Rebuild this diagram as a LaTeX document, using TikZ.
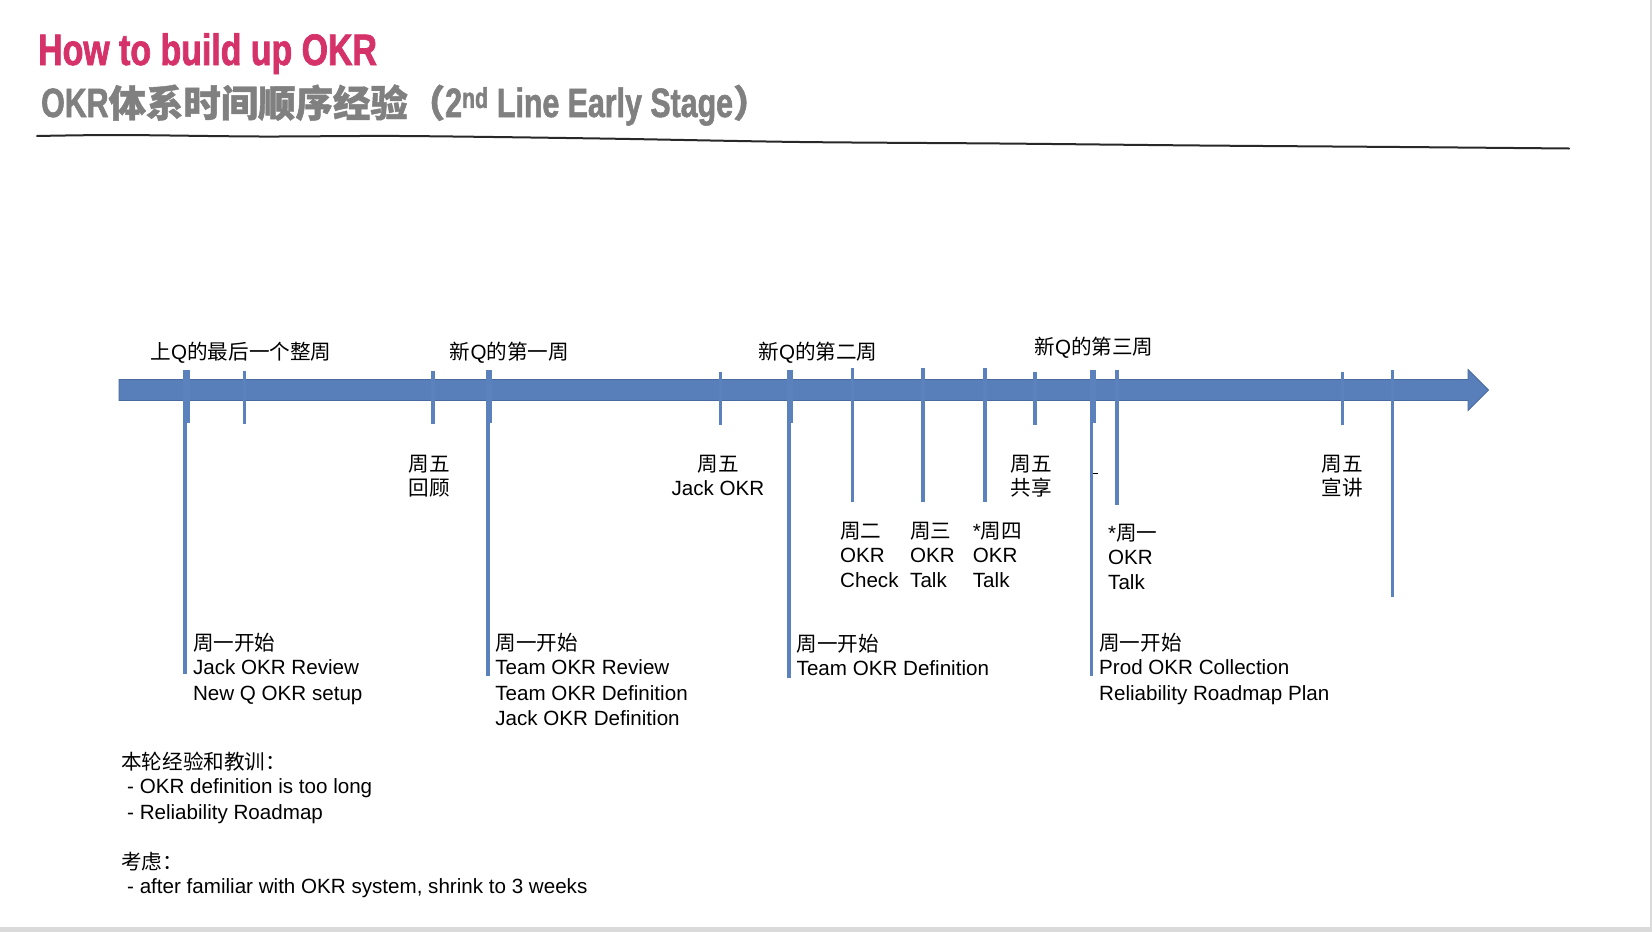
\documentclass[tikz,border=0pt]{standalone}
\usepackage{fontspec}
\setmainfont{Liberation Sans}
\newfontfamily\cjk{Noto Sans CJK SC}[BoldFont={Noto Sans CJK SC Bold}]
\newfontfamily\cjkhead{Noto Sans CJK SC Bold}[FakeBold=1.2]
\newfontfamily\headfont{Liberation Sans}[FakeStretch=0.77,FakeBold=1.6]
\newfontfamily\subfont{Liberation Sans}[FakeStretch=0.74,FakeBold=1.4]
\newcommand\zhs[1]{{\cjk #1}}

\definecolor{barblue}{RGB}{89,127,186}
\definecolor{baredge}{RGB}{72,106,158}
\definecolor{tickblue}{RGB}{92,130,190}
\definecolor{headred}{RGB}{214,50,106}
\definecolor{subgray}{RGB}{128,128,128}
\definecolor{edgegray}{RGB}{218,218,218}
\definecolor{rulecol}{RGB}{40,40,40}

\tikzset{
  txt/.style={anchor=base west, inner sep=0pt, font=\fontsize{20.6}{25}\selectfont},
  ctxt/.style={anchor=base, inner sep=0pt, font=\fontsize{20.6}{25}\selectfont},
  tickline/.style={draw=tickblue, line width=3.4pt},
}

\begin{document}
\begin{tikzpicture}[x=1pt,y=-1pt]
  % page
  \fill[white] (0,0) rectangle (1652,932);
  \fill[edgegray] (0,927) rectangle (1652,932);
  \fill[edgegray] (1650,0) rectangle (1652,932);
  \useasboundingbox (0,0) rectangle (1652,932);

  % heading
  \node[anchor=base west, inner sep=0pt, text=headred,
        font=\headfont\bfseries\fontsize{44}{50}\selectfont] (title) at (38,65) {How to build up OKR};
  \node[anchor=base west, inner sep=0pt, text=subgray] (subtitle) at (41,117)
    {\subfont\bfseries\fontsize{41}{46}\selectfont OKR{\cjkhead\fontsize{37.4}{46}\selectfont 体系时间顺序经验（}2\textsuperscript{nd} Line Early Stage{\cjkhead\fontsize{37.4}{46}\selectfont ）}};

  % hand drawn rule under the heading
  \draw[rulecol, line width=2pt, line cap=round]
    plot[smooth] coordinates {(37,136) (120,135) (260,136.5) (400,136) (600,138.5) (800,142) (1000,143.5) (1200,145.5) (1400,147) (1569,148.5)};

  % timeline arrow
  \filldraw[fill=barblue, draw=baredge, line width=0.8pt]
    (119,379.5) -- (1468,379.5) -- (1468,369.5) -- (1488.5,390) -- (1468,410.5) -- (1468,400.5) -- (119,400.5) -- cycle;

  % long markers
  \draw[tickline] (185,370) -- (185,674);
  \draw[tickline] (487.8,370) -- (487.8,676);
  \draw[tickline] (789,370) -- (789,677.5);
  \draw[tickline] (852.5,368) -- (852.5,501.5);
  \draw[tickline] (923,368) -- (923,501.5);
  \draw[tickline] (985,368) -- (985,501.5);
  \draw[tickline] (1091.5,370) -- (1091.5,676);
  \draw[tickline] (1117,370) -- (1117,504.5);
  \draw[tickline] (1392.5,370) -- (1392.5,597);

  % short markers
  \foreach \x/\a/\b in {188.6/370/423, 244.4/371/424, 433/371/424, 490.5/370/423,
                        720.7/371.7/425, 791.5/370/423, 1035/371.7/425,
                        1094.7/370/422.7, 1342.3/372/425}
    \draw[tickline] (\x,\a) -- (\x,\b);

  \draw[black, line width=1pt] (1093,473) -- (1098,473);

  % week labels
  \node[ctxt] (lastq) at (241,359) {\zhs{上}Q\zhs{的最后一个整周}};
  \node[ctxt] (wk1) at (509.5,359) {\zhs{新}Q\zhs{的第一周}};
  \node[ctxt] (wk2) at (818,359) {\zhs{新}Q\zhs{的第二周}};
  \node[ctxt] (wk3) at (1094,354.5) {\zhs{新}Q\zhs{的第三周}};

  % Friday labels
  \node[ctxt] (fa1) at (429.3,471.5) {\zhs{周五}};
  \node[ctxt] (fa2) at (429.3,495) {\zhs{回顾}};
  \node[ctxt] (fb1) at (718,471.5) {\zhs{周五}};
  \node[ctxt] (fb2) at (718,495) {Jack OKR};
  \node[ctxt] (fc1) at (1031,471.5) {\zhs{周五}};
  \node[ctxt] (fc2) at (1031,495) {\zhs{共享}};
  \node[ctxt] (fd1) at (1342,471.5) {\zhs{周五}};
  \node[ctxt] (fd2) at (1342,495) {\zhs{宣讲}};

  % mid-week labels
  \node[txt] (tu1) at (840,538.5) {\zhs{周二}};
  \node[txt] (tu2) at (840,562.7) {OKR};
  \node[txt] (tu3) at (840,587.7) {Check};
  \node[txt] (we1) at (910,538.5) {\zhs{周三}};
  \node[txt] (we2) at (910,562.7) {OKR};
  \node[txt] (we3) at (910,587.7) {Talk};
  \node[txt] (th1) at (972.7,538.5) {*\zhs{周四}};
  \node[txt] (th2) at (972.7,562.7) {OKR};
  \node[txt] (th3) at (972.7,587.7) {Talk};
  \node[txt] (mo1) at (1108,540) {*\zhs{周一}};
  \node[txt] (mo2) at (1108,564) {OKR};
  \node[txt] (mo3) at (1108,589) {Talk};

  % Monday start blocks
  \node[txt] (sa1) at (192.8,650) {\zhs{周一开始}};
  \node[txt] (sa2) at (192.8,674.5) {Jack OKR Review};
  \node[txt] (sa3) at (192.8,700.5) {New Q OKR setup};

  \node[txt] (sb1) at (495.2,650) {\zhs{周一开始}};
  \node[txt] (sb2) at (495.2,674.5) {Team OKR Review};
  \node[txt] (sb3) at (495.2,700.5) {Team OKR Definition};
  \node[txt] (sb4) at (495.2,725) {Jack OKR Definition};

  \node[txt] (sc1) at (796.5,651) {\zhs{周一开始}};
  \node[txt] (sc2) at (796.5,675.5) {Team OKR Definition};

  \node[txt] (sd1) at (1099,650) {\zhs{周一开始}};
  \node[txt] (sd2) at (1099,674.5) {Prod OKR Collection};
  \node[txt] (sd3) at (1099,700.5) {Reliability Roadmap Plan};

  % notes
  \node[txt] (n1) at (121,769) {\zhs{本轮经验和教训：}};
  \node[txt] (n2) at (127,793.5) {- OKR definition is too long};
  \node[txt] (n3) at (127,819.5) {- Reliability Roadmap};
  \node[txt] (n4) at (121,869.5) {\zhs{考虑：}};
  \node[txt] (n5) at (127,893.5) {- after familiar with OKR system, shrink to 3 weeks};
\end{tikzpicture}
\end{document}
